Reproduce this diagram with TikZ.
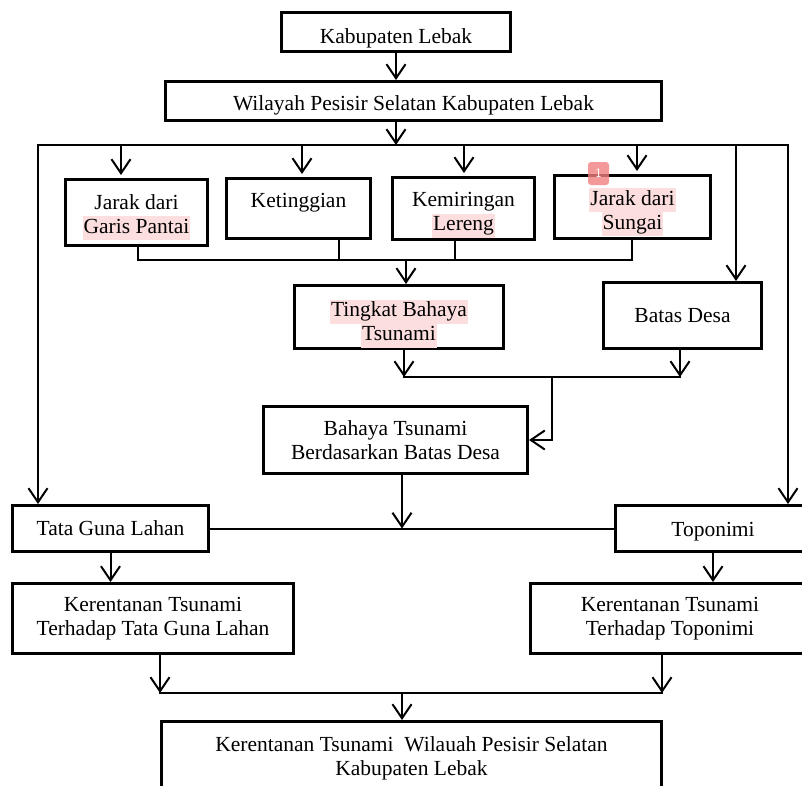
\documentclass[tikz,border=0pt]{standalone}
\usepackage{fontspec}
\setmainfont{Liberation Serif}
\usepackage{xcolor}
\usetikzlibrary{arrows.meta}
\definecolor{hlpink}{RGB}{252,222,222}
\definecolor{notered}{RGB}{240,128,128}
\newcommand{\hl}[1]{{\setlength{\fboxsep}{0pt}\colorbox{hlpink}{\kern1pt\strut#1\kern1pt}}}

\begin{document}
\begin{tikzpicture}[x=1pt,y=-1pt,
    box/.style={draw,line width=3pt,inner sep=0pt,align=center,font=\fontsize{21.5}{24}\selectfont},
    wire/.style={line width=2pt,line cap=rect},
    arr/.style={line width=2pt,line cap=rect,-{Straight Barb[length=14pt,width=19pt]}}]
         \useasboundingbox (0,0) rectangle (802,785);
         \clip (0,0) rectangle (802,785);
         \node[box,minimum width=229,minimum height=39,text height=26.7pt] (kab) at (396,32) {Kabupaten Lebak};
         \node[box,minimum width=496,minimum height=39,text height=22.7pt] (wil) at (413.5,101) {Wilayah Pesisir Selatan Kabupaten Lebak};
         \node[box,minimum width=142,minimum height=66,text height=48.2pt] (jgp) at (136.5,212.5) {Jarak dari\\\hl{Garis Pantai}};
         \node[box,minimum width=144,minimum height=60,text height=52.2pt] (ket) at (298.5,208.5) {Ketinggian\\\strut};
         \node[box,minimum width=142,minimum height=62,text height=51.2pt] (kem) at (463.5,208.5) {Kemiringan\\\hl{Lereng}};
         \node[box,minimum width=156,minimum height=63,text height=51.2pt] (jds) at (632.5,207) {\hl{Jarak dari}\\\hl{Sungai}};
         \node[fill=notered,fill opacity=0.8,text opacity=1,text=white,rounded corners=3pt,inner sep=0pt,
               minimum width=21,minimum height=23,font=\sffamily\fontsize{13}{13}\selectfont] (note) at (598.5,173.5) {1};
         \node[box,minimum width=209,minimum height=63,text height=54pt] (tbt) at (399,317) {\hl{Tingkat Bahaya}\\\hl{Tsunami}};
         \node[box,minimum width=158,minimum height=66] (bd) at (682.5,315.5) {Batas Desa};
         \node[box,minimum width=264,minimum height=67] (btbd) at (395.5,440) {Bahaya Tsunami\\Berdasarkan Batas Desa};
         \node[box,minimum width=196,minimum height=46] (tgl) at (110.5,528.5) {Tata Guna Lahan};
         \node[box,minimum width=195,minimum height=46,text height=20pt] (top) at (713,528.5) {Toponimi};
         \node[box,minimum width=281,minimum height=70] (ktgl) at (153,618.5) {Kerentanan Tsunami\\Terhadap Tata Guna Lahan};
         \node[box,minimum width=279,minimum height=70] (ktop) at (670,618.5) {Kerentanan Tsunami\\Terhadap Toponimi};
         \node[box,minimum width=500,minimum height=74] (kfin) at (411.5,758.5) {Kerentanan Tsunami \ Wilauah Pesisir Selatan\\Kabupaten Lebak};
         \coordinate (split) at (396,145);
         \coordinate (lft) at (38,145);
         \coordinate (rgt) at (788,145);
         \coordinate (mid) at (736,145);
         \draw[arr] (kab.south) -- (kab.south |- wil.north);
         \draw[arr] (kab.south |- wil.south) -- (split);
         \draw[arr] (rgt) -- (lft) -- (lft |- tgl.north);
         \draw[arr] (rgt) -- (rgt |- top.north);
         \draw[arr] (mid) -- (mid |- bd.north);
         \coordinate (a1) at (121,145);
         \coordinate (a2) at (302,145);
         \coordinate (a3) at (464,145);
         \coordinate (a4) at (637,145);
         \draw[arr,shorten >=3pt] (a1) -- (a1 |- jgp.north);
         \draw[arr,shorten >=3pt] (a2) -- (a2 |- ket.north);
         \draw[arr,shorten >=3pt] (a3) -- (a3 |- kem.north);
         \draw[arr,shorten >=3pt] (a4) -- (a4 |- jds.north);
         \coordinate (j1) at (138,260);
         \coordinate (j2) at (339,260);
         \coordinate (j3) at (455,260);
         \coordinate (j4) at (632,260);
         \coordinate (j5) at (406,260);
         \draw[wire] (j1 |- jgp.south) -- (j1) -- (j4) -- (j4 |- jds.south);
         \draw[wire] (j2) -- (j2 |- ket.south);
         \draw[wire] (j3) -- (j3 |- kem.south);
         \draw[arr] (j5) -- (j5 |- tbt.north);
         \coordinate (m1) at (404,377);
         \coordinate (m2) at (680,377);
         \coordinate (m3) at (552,377);
         \draw[arr] (m1 |- tbt.south) -- (m1);
         \draw[arr] (m2 |- bd.south) -- (m2);
         \draw[wire] (m1) -- (m2);
         \draw[arr] (m3) |- (btbd.east);
         \coordinate (c1) at (402,528.5);
         \draw[wire] (tgl.east) -- (top.west);
         \draw[arr] (c1 |- btbd.south) -- (c1);
         \draw[arr] (tgl.south) -- (tgl.south |- ktgl.north);
         \draw[arr] (top.south) -- (top.south |- ktop.north);
         \coordinate (d1) at (160,693);
         \coordinate (d2) at (662,693);
         \coordinate (d3) at (402,693);
         \draw[arr] (d1 |- ktgl.south) -- (d1);
         \draw[arr] (d2 |- ktop.south) -- (d2);
         \draw[wire] (d1) -- (d2);
         \draw[arr] (d3) -- (d3 |- kfin.north);
    \end{tikzpicture}
\end{document}
